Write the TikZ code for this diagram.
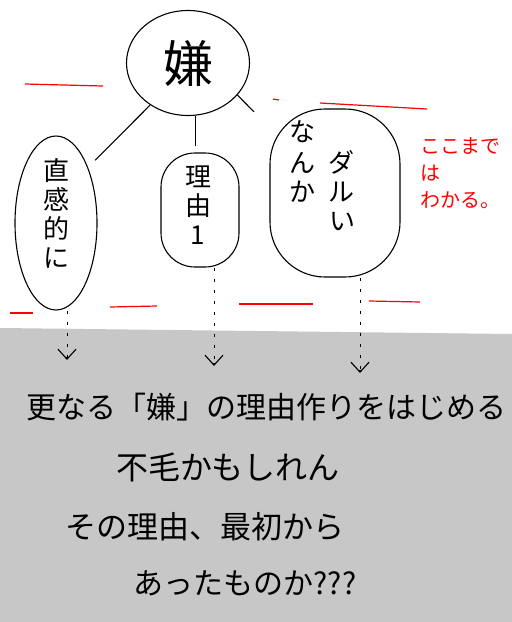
\documentclass[tikz,border=0pt]{standalone}
\usepackage{fontspec}
\setmainfont{Noto Sans CJK JP}
\usetikzlibrary{shapes.geometric}
\usetikzlibrary{arrows.meta}

\begin{document}
\begin{tikzpicture}[%
  x=1pt, y=-1pt,
  >={Straight Barb[length=10pt,width=18pt]},
  bubble/.style={draw=black, line width=1.1pt, inner sep=0pt},
  link/.style={draw=black, line width=1.1pt},
  dotlink/.style={draw=black, line width=1pt, dash pattern=on 3pt off 8pt},
  tiplink/.style={draw=black, line width=1.1pt, ->},
  redmark/.style={draw=red, line width=1.2pt},
  handtext/.style={font=\fontsize{26}{29}\selectfont, align=center, inner sep=0pt},
  bigtext/.style={font=\fontsize{30}{34}\selectfont, inner sep=0pt},
  redtext/.style={font=\fontsize{20}{27}\selectfont, text=red, align=left, anchor=north west, inner sep=0pt},
]

  \useasboundingbox (0,0) rectangle (512,622);
  \fill[white] (0,0) rectangle (512,622);
  \fill[black!22] (0,328) -- (512,334) -- (512,622) -- (0,622) -- cycle;

  % red marks
  \draw[redmark] (25,84) -- (103,86);
  \draw[redmark] (273,99) -- (279,100);
  \draw[redmark] (320,103) -- (427,109);
  \draw[redmark] (10,313) -- (33,313);
  \draw[redmark] (110,307) -- (157,306);
  \draw[redmark] (239,304) -- (313,304);
  \draw[redmark] (369,301) -- (420,302);

  \node[bubble, ellipse, minimum width=123, minimum height=105,
    font=\fontsize{50}{50}\selectfont] (kirai) at (188,63) {嫌};

  \node[bubble, ellipse, minimum width=82, minimum height=174] (hunch) at (56,223) {};
  \node[handtext] (hunchtext) at (56,213) {直\\感\\的\\に};

  \node[bubble, rectangle, rounded corners=34pt, minimum width=78, minimum height=114] (reason) at (200,210) {};
  \node[handtext] (reasontext) at (198,205) {理\\由\\1};

  \node[bubble, rectangle, rounded corners=55pt, minimum width=130, minimum height=168] (dull) at (335,193) {};
  \node[handtext] (dulltext) at (322,180) {%
    \begin{tabular}{@{}c@{\hspace{14pt}}c@{}}
      な & \\ ん & ダ \\ か & ル \\ & い
    \end{tabular}};

  \node[redtext] (note) at (420,137) {ここまで\\は\\わかる。};

  \draw[link, shorten >=10pt] (kirai.-132) -- (hunch.60);
  \draw[link, shorten >=6pt] (kirai.-82) -- (kirai.-82 |- reason.north);
  \draw[link, shorten >=22pt] (kirai.-33) -- (dull.135);

  \coordinate (tipA) at (67,360);
  \coordinate (tipB) at (214,366);
  \coordinate (tipC) at (360,373);
  \draw[dotlink] (tipA |- hunch.south) -- (tipA);
  \draw[dotlink] (tipB |- reason.south) -- (tipB);
  \draw[dotlink] (tipC |- dull.south) -- (tipC);
  \draw[tiplink] (tipA) ++(0,-3) -- (tipA);
  \draw[tiplink] (tipB) ++(0,-3) -- (tipB);
  \draw[tiplink] (tipC) ++(0,-3) -- (tipC);

  \node[bigtext] (line1) at (267,407) {更なる「嫌」の理由作りをはじめる};
  \node[bigtext, font=\fontsize{32}{34}\selectfont] (line2) at (228,467) {不毛かもしれん};
  \node[bigtext, font=\fontsize{31}{34}\selectfont] (line3) at (205,527) {その理由、最初から};
  \node[bigtext] (line4) at (245,583) {あったものか???};

\end{tikzpicture}
\end{document}
